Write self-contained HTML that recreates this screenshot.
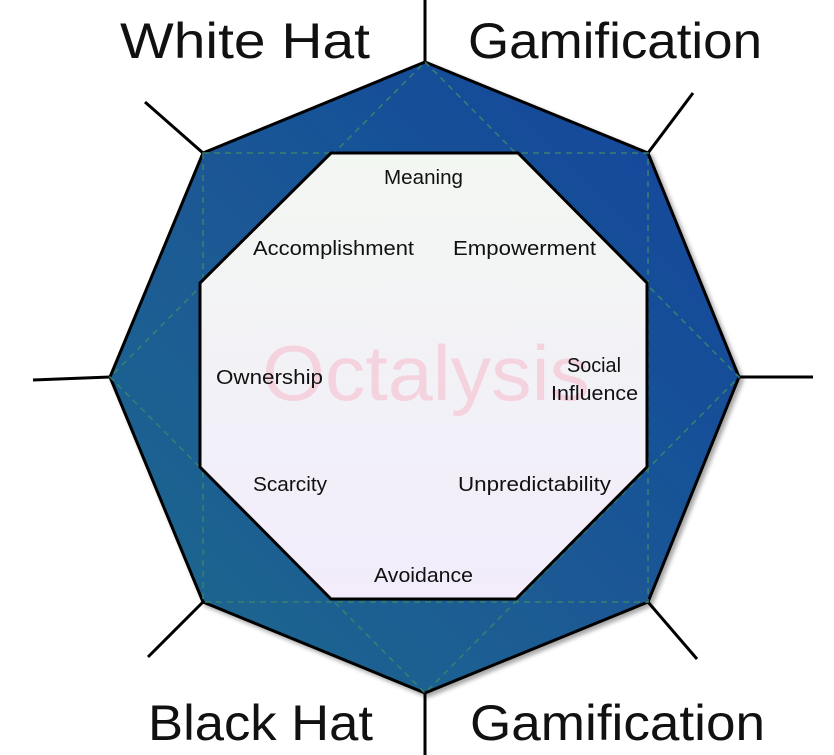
<!DOCTYPE html>
<html><head><meta charset="utf-8"><style>html,body{margin:0;padding:0;background:#fff}svg{display:block}</style></head>
<body>
<svg width="834" height="755" viewBox="0 0 834 755" xmlns="http://www.w3.org/2000/svg">
<defs>
<linearGradient id="bg" x1="1" y1="0" x2="0" y2="1">
<stop offset="0" stop-color="#15449c"/><stop offset="1" stop-color="#1f6a8e"/>
</linearGradient>
<linearGradient id="ig" x1="0" y1="0" x2="0" y2="1">
<stop offset="0" stop-color="#f3f7f2"/><stop offset="1" stop-color="#f2ecfb"/>
</linearGradient>
<filter id="sh" x="-10%" y="-10%" width="130%" height="130%"><feDropShadow dx="3" dy="3" stdDeviation="2" flood-color="#000" flood-opacity="0.35"/></filter>
</defs>
<g stroke="#000" stroke-width="3">
<line x1="425" y1="0" x2="425" y2="62"/>
<line x1="425" y1="693" x2="425" y2="755"/>
<line x1="33" y1="380" x2="110" y2="377"/>
<line x1="739" y1="377" x2="813" y2="377"/>
<line x1="145" y1="102" x2="203" y2="153"/>
<line x1="693" y1="93" x2="648" y2="153"/>
<line x1="148" y1="657" x2="203" y2="602"/>
<line x1="697" y1="659" x2="648" y2="602"/>
</g>
<polygon points="425,62 648,153 739,377 648,602 425,693 203,602 110,377 203,153" fill="url(#bg)" stroke="#000" stroke-width="3" filter="url(#sh)"/>
<g fill="none" stroke="#3a8070" stroke-width="1.5" stroke-dasharray="6,5">
<polygon points="203,153 648,153 648,602 203,602"/>
<polygon points="425,62 739,377 425,693 110,377"/>
</g>
<polygon points="331,153 518,153 647,283 647,467 516,599 331,599 200,467 200,283" fill="url(#ig)" stroke="#000" stroke-width="3"/>
<text x="426" y="400" font-family="Liberation Sans, sans-serif" font-size="78" fill="#f5d3de" text-anchor="middle" textLength="328" lengthAdjust="spacingAndGlyphs">Octalysis</text>
<g font-family="Liberation Sans, sans-serif" font-size="20" fill="#111" lengthAdjust="spacingAndGlyphs">
<text x="384" y="184" textLength="79" lengthAdjust="spacingAndGlyphs">Meaning</text>
<text x="253" y="255" textLength="161" lengthAdjust="spacingAndGlyphs">Accomplishment</text>
<text x="453" y="255" textLength="143" lengthAdjust="spacingAndGlyphs">Empowerment</text>
<text x="216" y="384" textLength="107" lengthAdjust="spacingAndGlyphs">Ownership</text>
<text x="567" y="372" textLength="54" lengthAdjust="spacingAndGlyphs">Social</text>
<text x="551" y="400" textLength="87" lengthAdjust="spacingAndGlyphs">Influence</text>
<text x="253" y="491" textLength="74" lengthAdjust="spacingAndGlyphs">Scarcity</text>
<text x="458" y="491" textLength="153" lengthAdjust="spacingAndGlyphs">Unpredictability</text>
<text x="374" y="582" textLength="99" lengthAdjust="spacingAndGlyphs">Avoidance</text>
</g>
<g font-family="Liberation Sans, sans-serif" font-size="50" fill="#111">
<text x="120" y="58" textLength="250" lengthAdjust="spacingAndGlyphs">White Hat</text>
<text x="468" y="58" textLength="294" lengthAdjust="spacingAndGlyphs">Gamification</text>
<text x="148" y="740" textLength="225" lengthAdjust="spacingAndGlyphs">Black Hat</text>
<text x="470" y="740" textLength="295" lengthAdjust="spacingAndGlyphs">Gamification</text>
</g>
</svg>
</body></html>
